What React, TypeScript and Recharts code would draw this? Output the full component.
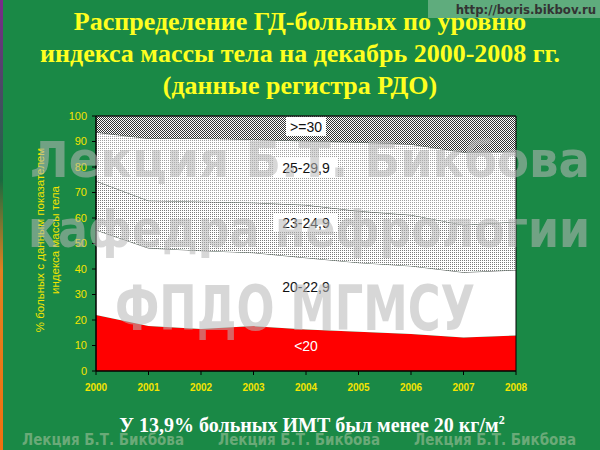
import React from 'react';
import { AreaChart, Area, XAxis, YAxis, ReferenceArea, ReferenceDot } from 'recharts';

const years = ['2000', '2001', '2002', '2003', '2004', '2005', '2006', '2007', '2008'];
const lt20 = [22.0, 17.6, 16.5, 17.6, 16.3, 15.4, 14.5, 13.1, 13.9];
const r20 = [33.3, 30.6, 30.7, 28.8, 28.1, 27.1, 26.7, 25.6, 25.7];
const r23 = [19.2, 18.6, 19.2, 19.6, 20.7, 20.2, 20.0, 18.6, 18.9];
const r25 = [19.1, 24.4, 24.8, 24.8, 25.1, 27.0, 27.7, 28.5, 27.5];
const ge30 = [6.4, 8.8, 8.8, 9.2, 9.8, 10.3, 11.1, 14.2, 14.0];
const yTicks = [0, 10, 20, 30, 40, 50, 60, 70, 80, 90, 100];

const seriesLabels = ['<20', '20-22,9', '23-24,9', '25-29,9', '>=30'];
const labelLevels = [9.8, 33, 58, 79.6, 95.7];
const labelYear = '2004';

const titleLines = [
  'Распределение ГД-больных по уровню',
  'индекса массы тела на декабрь 2000-2008 гг.',
  '(данные регистра РДО)',
];
const yLabelLines = ['% больных с данным показателем', 'индекса массы тела'];
const subtitle = 'У 13,9% больных ИМТ был менее 20 кг/м';
const watermark1 = 'Лекция Б.Т. Бикбова';
const watermark2 = 'кафедра нефрологии';
const watermark3 = 'ФПДО МГМСУ';
const url = 'http://boris.bikbov.ru';

const data = years.map((y, i) => ({
  year: y,
  lt20: lt20[i],
  r20: r20[i],
  r23: r23[i],
  r25: r25[i],
  ge30: ge30[i],
}));

const GREEN = '#1a8946';
const YELLOW = '#f4e400';
const SANS = '"Liberation Sans", Arial, sans-serif';
const SERIF = '"Liberation Serif", "Times New Roman", serif';

const makeLabel = (text: string, boxed: boolean, color: string) => (props: any) => {
  const vb = props.viewBox || {};
  const cx = vb.x + (vb.width || 0) / 2;
  const cy = vb.y + (vb.height || 0) / 2;
  const w = text.length * 8 + 8;
  return (
    <g>
      {boxed && <rect x={cx - w / 2} y={cy - 10} width={w} height={19} fill="#fff" />}
      <text x={cx} y={cy} dy="0.36em" textAnchor="middle" fill={color} fontSize={14} fontFamily={SANS}>
        {text}
      </text>
    </g>
  );
};

export default function App() {
  return (
    <div style={{ position: 'absolute', left: 0, top: 0, width: 600, height: 450, background: GREEN, overflow: 'hidden' }}>
      <svg width={0} height={0} style={{ position: 'absolute' }}>
        <defs>
          <pattern id="p30" width={2} height={2} patternUnits="userSpaceOnUse">
            <rect width={2} height={2} fill="#fff" />
            <rect x={0} y={0} width={1} height={1} fill="#333" />
            <rect x={1} y={1} width={1} height={1} fill="#333" />
          </pattern>
          <pattern id="p25" width={2} height={2} patternUnits="userSpaceOnUse">
            <rect width={2} height={2} fill="#fff" />
            <rect x={0} y={0} width={1} height={1} fill="#a0a0a0" />
          </pattern>
          <pattern id="p23" width={2} height={2} patternUnits="userSpaceOnUse">
            <rect width={2} height={2} fill="#fff" />
            <rect x={0} y={0} width={1} height={1} fill="#7a7a7a" />
          </pattern>
          <linearGradient id="stripe" x1="0" y1="0" x2="0" y2="1">
            <stop offset="0" stopColor="#7a2a8a" />
            <stop offset="0.4" stopColor="#1a6a40" />
            <stop offset="0.6" stopColor="#e08020" />
            <stop offset="1" stopColor="#f07010" />
          </linearGradient>
        </defs>
      </svg>

      <svg width={600} height={450} style={{ position: 'absolute', left: 0, top: 0 }}>
        <rect x={0} y={0} width={3} height={450} fill="url(#stripe)" />
        <rect x={428} y={0} width={172} height={18} fill="#ffffff" opacity={0.3} />
        <text x={596} y={14} textAnchor="end" fontSize={13} fontWeight="bold" fill="#333" fontFamily={'"DejaVu Sans Condensed", "Liberation Sans Narrow", sans-serif'}>
          {url}
        </text>
        {titleLines.map((t, i) => (
          <text key={i} x={300} y={30 + i * 32} textAnchor="middle" fontSize={26} fontWeight="bold" fill="#ffff20" fontFamily={SERIF}>
            {t}
          </text>
        ))}
        <g transform="translate(44,240) rotate(-90)">
          <text x={0} y={0} textAnchor="middle" fontSize={11.5} fill={YELLOW} fontFamily={SANS}>
            {yLabelLines[0]}
          </text>
          <text x={0} y={15} textAnchor="middle" fontSize={11.5} fill={YELLOW} fontFamily={SANS}>
            {yLabelLines[1]}
          </text>
        </g>
        <text x={312} y={432} textAnchor="middle" fontSize={20} fontWeight="bold" fill="#fff" fontFamily={SERIF}>
          {subtitle}
          <tspan fontSize={12} dy={-8}>2</tspan>
        </text>
        {[22, 218, 414].map((x, i) => (
          <text key={i} x={x} y={445} fontSize={16} fontWeight="bold" fill="#6aaa78" fontFamily={'"DejaVu Sans Condensed", sans-serif'} textLength={162} lengthAdjust="spacingAndGlyphs">
            {watermark1}
          </text>
        ))}
      </svg>

      <div style={{ position: 'absolute', left: 0, top: 0 }}>
        <AreaChart width={600} height={450} data={data} margin={{ top: 116, right: 84, bottom: 49, left: 56 }}>
          <XAxis
            dataKey="year"
            stroke="#000"
            tickSize={4}
            tickMargin={9}
            height={30}
            tick={{ fill: YELLOW, fontSize: 10, fontWeight: 'bold', fontFamily: SANS }}
            tickLine={{ stroke: '#000' }}
            axisLine={{ stroke: '#000' }}
          />
          <YAxis
            domain={[0, 100]}
            ticks={yTicks}
            width={40}
            stroke="#000"
            tickSize={4}
            tickMargin={5}
            interval={0}
            tick={{ fill: YELLOW, fontSize: 11, fontFamily: SANS }}
            tickLine={{ stroke: '#000' }}
            axisLine={{ stroke: '#000' }}
          />
          <Area type="linear" dataKey="lt20" stackId="a" fill="#ff0000" fillOpacity={1} stroke="none" isAnimationActive={false} />
          <Area type="linear" dataKey="r20" stackId="a" fill="#ffffff" fillOpacity={1} stroke="#444" strokeWidth={0.8} isAnimationActive={false} />
          <Area type="linear" dataKey="r23" stackId="a" fill="url(#p23)" fillOpacity={1} stroke="#444" strokeWidth={0.8} isAnimationActive={false} />
          <Area type="linear" dataKey="r25" stackId="a" fill="url(#p25)" fillOpacity={1} stroke="#444" strokeWidth={0.8} isAnimationActive={false} />
          <Area type="linear" dataKey="ge30" stackId="a" fill="url(#p30)" fillOpacity={1} stroke="#444" strokeWidth={0.8} isAnimationActive={false} />
          <ReferenceArea x1="2000" x2="2008" y1={0} y2={100} fill="none" stroke="#000" strokeWidth={1} ifOverflow="visible" />
          {seriesLabels.map((s, i) => (
            <ReferenceDot
              key={s}
              x={labelYear}
              y={labelLevels[i]}
              r={0}
              fill="none"
              stroke="none"
              ifOverflow="visible"
              label={{
                content: makeLabel(s, i >= 2, i === 0 ? '#fff' : '#111'),
              }}
            />
          ))}
        </AreaChart>
      </div>

      <svg width={600} height={450} style={{ position: 'absolute', left: 0, top: 0, pointerEvents: 'none' }}>
        <g fill="#b8b8b8" opacity={0.55} fontWeight="bold" fontFamily={'"DejaVu Sans Condensed", sans-serif'}>
          <text x={30} y={177} fontSize={50} textLength={560} lengthAdjust="spacingAndGlyphs">{watermark1}</text>
          <text x={28} y={247} fontSize={52} textLength={562} lengthAdjust="spacingAndGlyphs">{watermark2}</text>
          <text x={115} y={330} fontSize={62} textLength={360} lengthAdjust="spacingAndGlyphs">{watermark3}</text>
        </g>
      </svg>
    </div>
  );
}
